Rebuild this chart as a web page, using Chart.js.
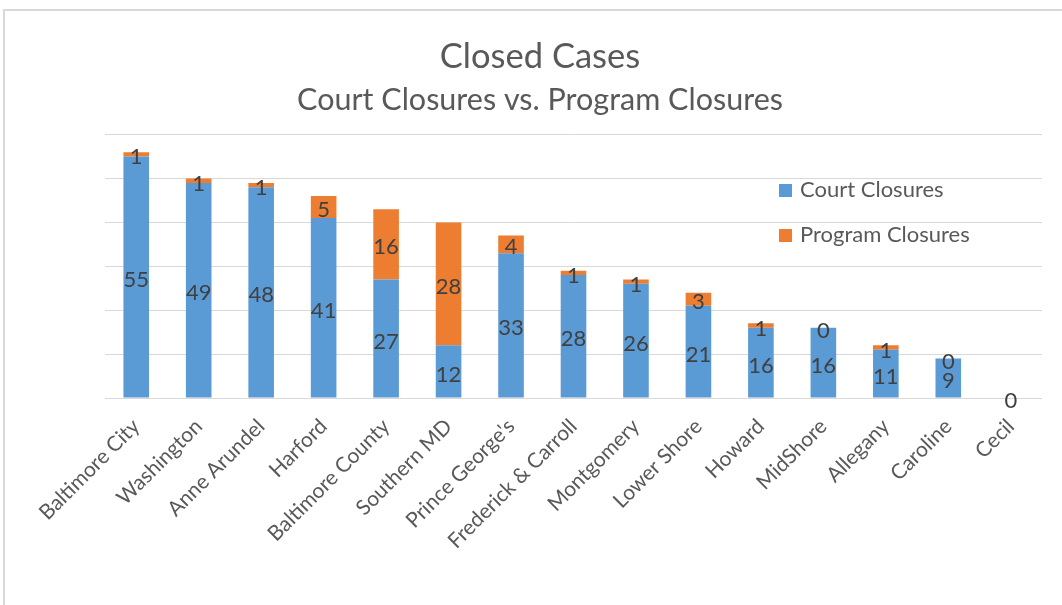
<!DOCTYPE html>
<html><head><meta charset="utf-8">
<script src="https://cdn.jsdelivr.net/npm/chart.js@4"></script>
<style>
html,body{margin:0;padding:0;background:#fff;overflow:hidden}
#frame{position:absolute;left:3px;top:9px;width:1100px;height:700px;border:2px solid #d9d9d9;box-sizing:border-box}
#wrap{position:absolute;left:0;top:0;width:1062px;height:605px}
</style></head><body>
<div id="frame"></div>
<div id="wrap"><canvas id="c" width="1062" height="605"></canvas></div>
<script>
const categories = ["Baltimore City","Washington","Anne Arundel","Harford","Baltimore County","Southern MD","Prince George's","Frederick & Carroll","Montgomery","Lower Shore","Howard","MidShore","Allegany","Caroline","Cecil"];
const courtClosures = [55,49,48,41,27,12,33,28,26,21,16,16,11,9,0];
const programClosures = [1,1,1,5,16,28,4,1,1,3,1,0,1,0,0];
const seriesNames = ["Court Closures","Program Closures"];
const yTicks = [0,10,20,30,40,50,60];
const titleText = 'Closed Cases';
const subtitleText = 'Court Closures vs. Program Closures';

const BLUE = '#5B9BD5', ORANGE = '#ED7D31';
const FONT = 'Lato, "Open Sans", sans-serif';
const TITLE_SIZE = 34.5, SUB_SIZE = 30.5;

const dataLabels = {
  id: 'dataLabels',
  afterDatasetsDraw(chart) {
    const ctx = chart.ctx;
    ctx.save();
    ctx.font = '22px ' + FONT;
    ctx.fillStyle = '#404040';
    ctx.textAlign = 'center';
    ctx.textBaseline = 'middle';
    chart.data.datasets.forEach((ds, di) => {
      const meta = chart.getDatasetMeta(di);
      meta.data.forEach((el, i) => {
        if (di === 1 && ds.data[i] === 0 && chart.data.datasets[0].data[i] === 0) return;
        const y = (el.y + el.base) / 2;
        ctx.fillText(String(ds.data[i]), el.x, y + 3);
      });
    });
    ctx.restore();
  }
};

const customLegendAndTitle = {
  id: 'customLegendAndTitle',
  afterDraw(chart) {
    const ctx = chart.ctx;
    ctx.save();
    ctx.textBaseline = 'middle';
    ctx.textAlign = 'center';
    ctx.fillStyle = '#595959';
    ctx.font = TITLE_SIZE + 'px ' + FONT;
    ctx.fillText(titleText, 540, 57);
    ctx.font = SUB_SIZE + 'px ' + FONT;
    ctx.fillText(subtitleText, 540, 100);

    ctx.font = '22px ' + FONT;
    ctx.textAlign = 'left';
    chart.data.datasets.forEach((ds, i) => {
      const cy = 190 + i * 45;
      ctx.fillStyle = ds.backgroundColor;
      ctx.fillRect(779, cy - 6, 13, 13);
      ctx.fillStyle = '#595959';
      ctx.fillText(ds.label, 800, cy);
    });
    ctx.restore();
  }
};

new Chart(document.getElementById('c'), {
  type: 'bar',
  data: {
    labels: categories,
    datasets: [
      { label: seriesNames[0], data: courtClosures, backgroundColor: BLUE, barPercentage: 0.41, categoryPercentage: 1 },
      { label: seriesNames[1], data: programClosures, backgroundColor: ORANGE, barPercentage: 0.41, categoryPercentage: 1 }
    ]
  },
  options: {
    responsive: false,
    animation: false,
    layout: { padding: { left: 18, right: 20, top: 0, bottom: 0 } },
    plugins: {
      legend: { display: false },
      tooltip: { enabled: false },
      title: { display: true, text: titleText, color: 'rgba(0,0,0,0)', font: { family: FONT, size: 33, weight: 'normal' }, padding: { top: 37, bottom: 5 } },
      subtitle: { display: true, text: subtitleText, color: 'rgba(0,0,0,0)', font: { family: FONT, size: 30, weight: 'normal' }, padding: { top: 0, bottom: 17 } }
    },
    scales: {
      x: {
        stacked: true,
        grid: { display: false },
        border: { display: false },
        ticks: { color: '#595959', font: { family: FONT, size: 21 }, minRotation: 45, maxRotation: 45, padding: 8, autoSkip: false },
        afterFit(s) { s.height = 207; }
      },
      y: {
        stacked: true,
        min: yTicks[0], max: yTicks[yTicks.length - 1],
        afterBuildTicks(s) { s.ticks = yTicks.map(v => ({ value: v })); },
        ticks: { display: false },
        grid: { color: '#d9d9d9', lineWidth: 1, drawTicks: false },
        border: { display: false },
        afterFit(s) { s.width = 87; }
      }
    }
  },
  plugins: [dataLabels, customLegendAndTitle]
});
</script>
</body></html>
